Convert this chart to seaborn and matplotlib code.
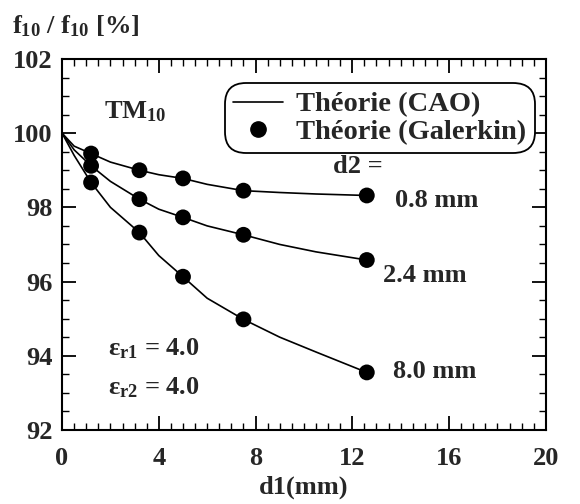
import numpy as np
import pandas as pd
import seaborn as sns
import matplotlib.pyplot as plt
from matplotlib.lines import Line2D
from matplotlib.ticker import MultipleLocator

sns.set_style("ticks")
plt.rcParams['font.family'] = ['Liberation Serif', 'DejaVu Serif']
plt.rcParams['font.weight'] = 'bold'
plt.rcParams['mathtext.default'] = 'regular'

# épaisseurs d2 et points Galerkin
d2_labels = ["0.8 mm", "2.4 mm", "8.0 mm"]
d1_pts = [1.2, 3.2, 5.0, 7.5, 12.6]
galerkin_08 = [99.45, 99.0, 98.78, 98.45, 98.32]
galerkin_24 = [99.12, 98.22, 97.73, 97.26, 96.58]
galerkin_80 = [98.67, 97.32, 96.13, 94.98, 93.55]

# courbes CAO
d1_line = [0.0, 0.5, 1.2, 2.0, 3.2, 4.0, 5.0, 6.0, 7.5, 9.0, 10.5, 12.6]
cao_08 = [100.0, 99.65, 99.45, 99.22, 99.0, 98.88, 98.78, 98.62, 98.45, 98.4, 98.36, 98.32]
cao_24 = [100.0, 99.55, 99.12, 98.7, 98.22, 97.95, 97.73, 97.5, 97.26, 97.0, 96.8, 96.58]
cao_80 = [100.0, 99.4, 98.67, 98.0, 97.32, 96.7, 96.13, 95.55, 94.98, 94.5, 94.1, 93.55]

lines = pd.DataFrame({
    "d1": d1_line * 3,
    "f": cao_08 + cao_24 + cao_80,
    "d2": sum([[lab] * len(d1_line) for lab in d2_labels], []),
})
pts = pd.DataFrame({
    "d1": d1_pts * 3,
    "f": galerkin_08 + galerkin_24 + galerkin_80,
    "d2": sum([[lab] * len(d1_pts) for lab in d2_labels], []),
})

fig = plt.figure(figsize=(5.8, 5.04), dpi=100)
ax = fig.add_axes([0.107, 0.147, 0.834, 0.736])

pal = {lab: "black" for lab in d2_labels}
sns.lineplot(data=lines, x="d1", y="f", hue="d2", palette=pal, linewidth=1.2,
             legend=False, ax=ax, estimator=None, sort=False)
sns.scatterplot(data=pts, x="d1", y="f", hue="d2", palette=pal, s=130,
                edgecolor="black", linewidth=0, legend=False, ax=ax, zorder=3)

ax.set_xlim(0, 20)
ax.set_ylim(92, 102)
ax.xaxis.set_major_locator(MultipleLocator(4))
ax.xaxis.set_minor_locator(MultipleLocator(0.5))
ax.yaxis.set_major_locator(MultipleLocator(2))
ax.yaxis.set_minor_locator(MultipleLocator(0.5))
ax.tick_params(which="both", direction="in", top=True, right=True, color="black")
ax.tick_params(which="major", length=10, width=1.3, labelsize=19, pad=7)
ax.tick_params(axis="x", which="major", pad=12)
ax.tick_params(which="minor", length=5, width=1)
for sp in ax.spines.values():
    sp.set_linewidth(1.5)
    sp.set_color("black")
for t in ax.get_xticklabels() + ax.get_yticklabels():
    t.set_fontweight("bold")

ax.set_xlabel("d1(mm)", fontsize=19, fontweight="bold", labelpad=4)
ax.set_ylabel("")
fig.text(0.02, 0.934, "f$_{10}$ / f$_{10}$ [%]", fontsize=19, fontweight="bold")

fs = 19
ax.text(1.75, 100.4, "TM$_{10}$", fontsize=fs, fontweight="bold")
ax.text(1.9, 94.0, "ε$_{r1}$ = 4.0", fontsize=fs, fontweight="bold")
ax.text(1.9, 92.95, "ε$_{r2}$ = 4.0", fontsize=fs, fontweight="bold")
ax.text(11.2, 98.93, "d2 =", fontsize=fs, fontweight="bold")
ax.text(13.75, 98.0, d2_labels[0], fontsize=fs, fontweight="bold")
ax.text(13.26, 96.0, d2_labels[1], fontsize=fs, fontweight="bold")
ax.text(13.68, 93.4, d2_labels[2], fontsize=fs, fontweight="bold")

handles = [Line2D([], [], color="black", linewidth=1.2),
           Line2D([], [], color="black", marker="o", linestyle="none", markersize=11)]
leg = ax.legend(handles, ["Théorie (CAO)", "Théorie (Galerkin)"],
                loc="upper right", bbox_to_anchor=(0.977, 0.935), fontsize=20.5,
                frameon=True, fancybox=True, edgecolor="black", framealpha=1,
                handlelength=1.75, handletextpad=0.45, borderpad=0.3,
                labelspacing=0.05, borderaxespad=0)
leg.get_frame().set_linewidth(1.3)
leg.get_frame().set_boxstyle("round", pad=0, rounding_size=0.75)
for t in leg.get_texts():
    t.set_fontweight("bold")

fig.savefig("out.png", dpi=100)
